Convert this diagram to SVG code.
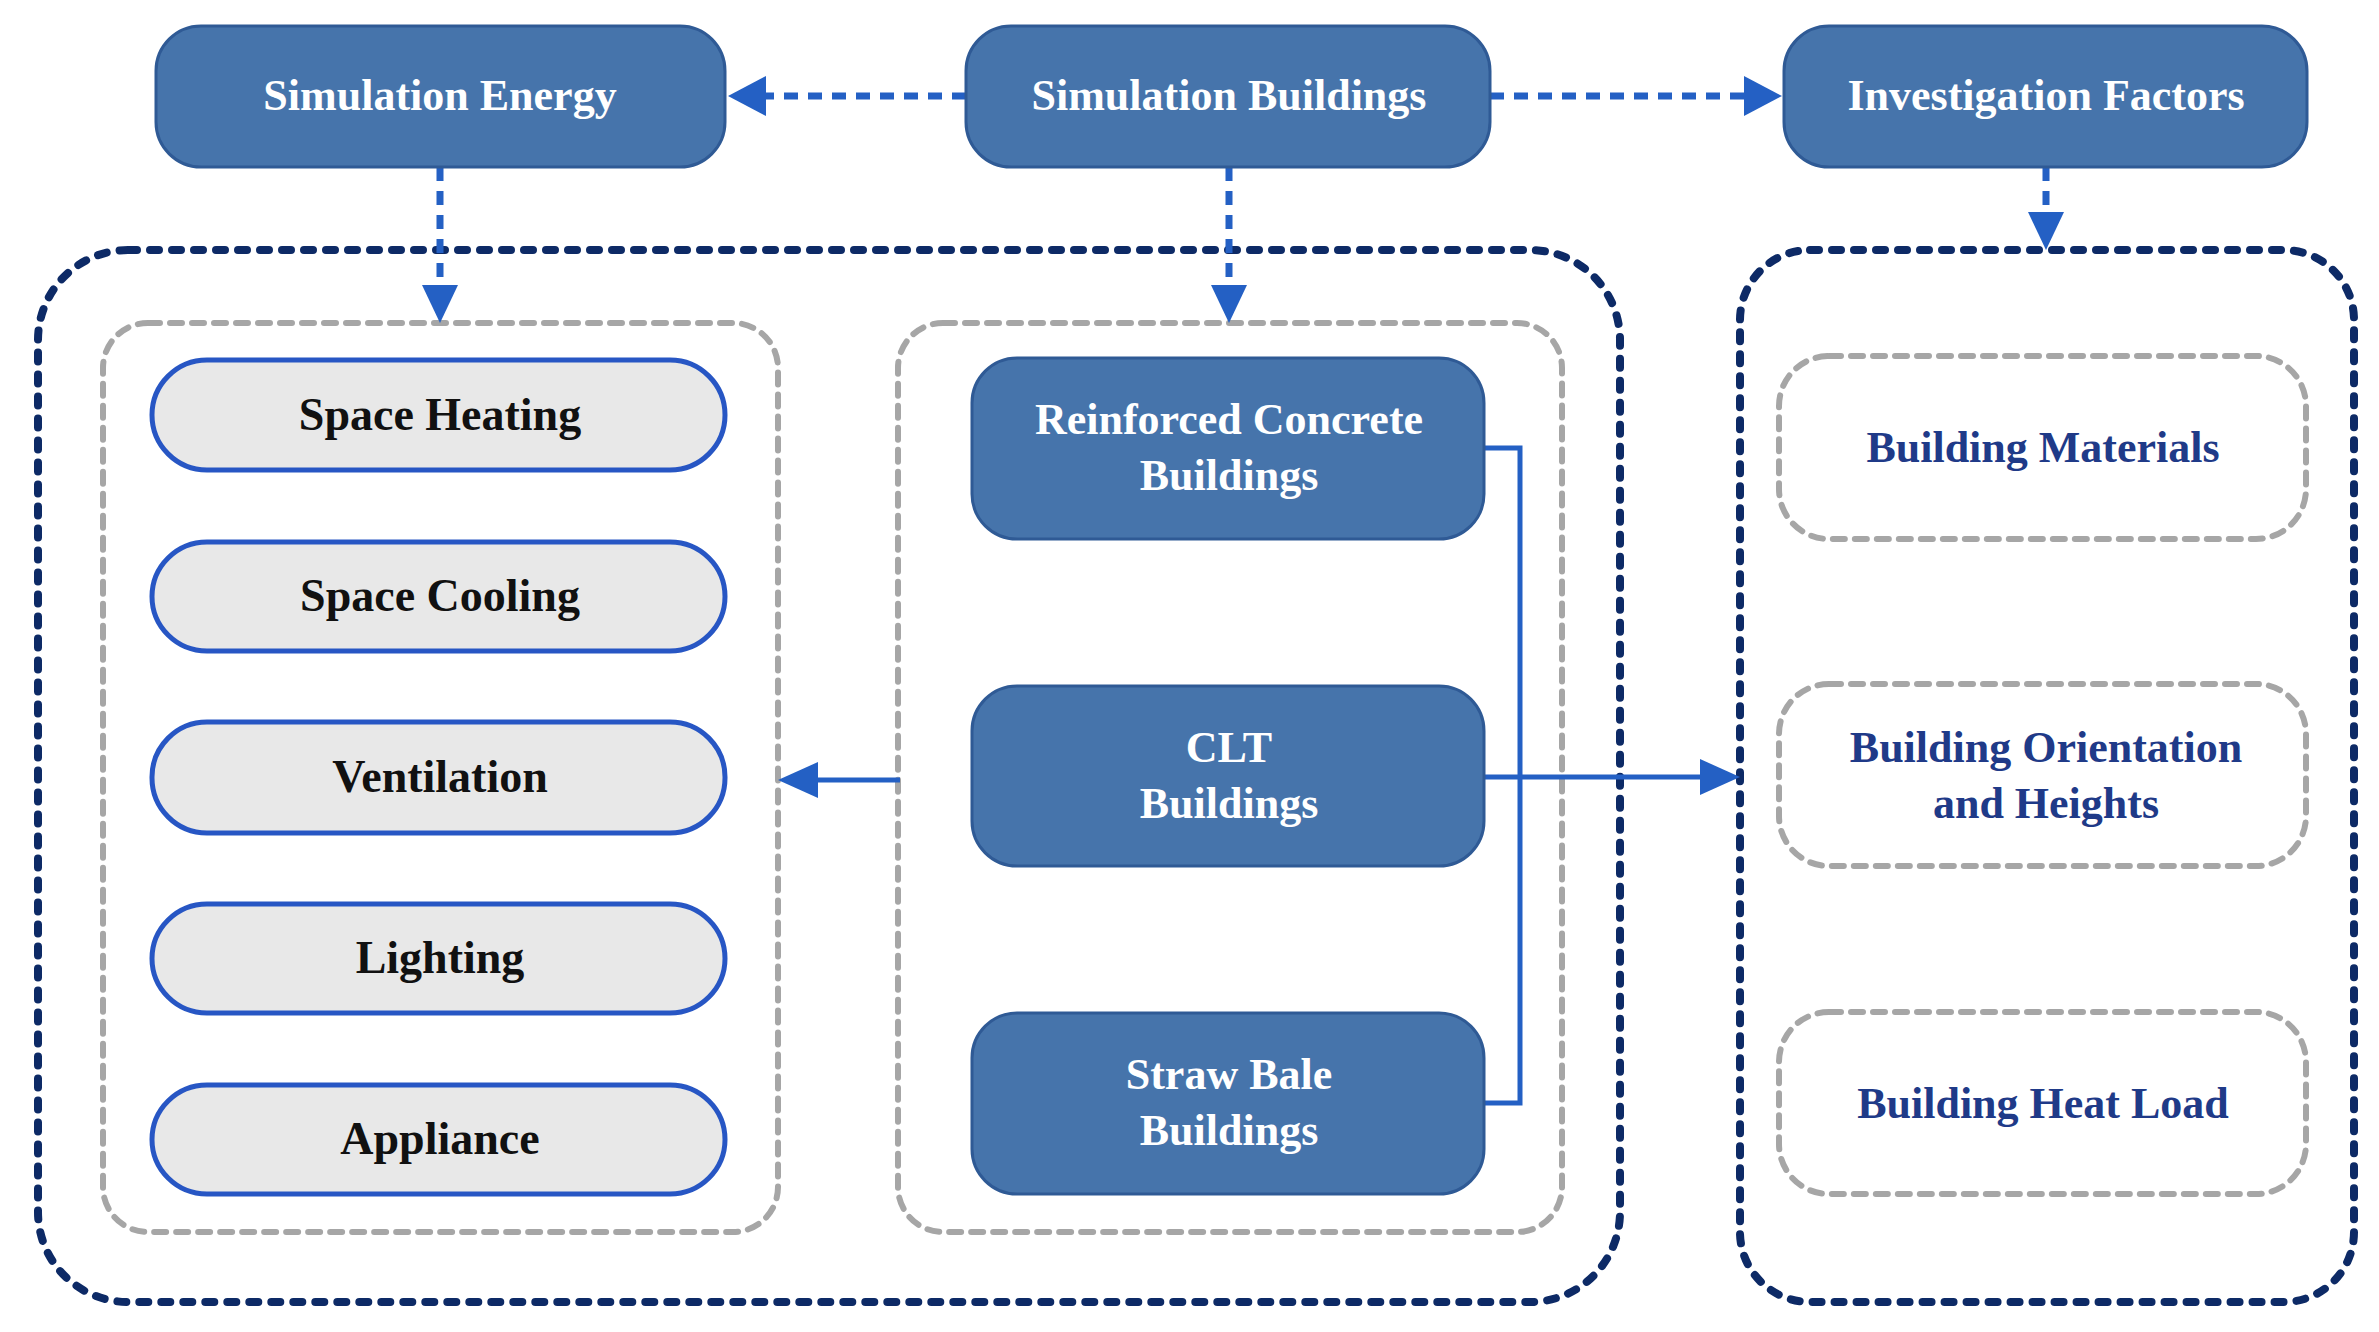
<svg xmlns="http://www.w3.org/2000/svg" width="2379" height="1332" viewBox="0 0 2379 1332">
<defs>
<style>
.bx{fill:#4674ab;stroke:#2f5a95;stroke-width:3}
.wt{font-family:"Liberation Serif",serif;font-weight:bold;font-size:44px;fill:#fff;text-anchor:middle}
.pl{fill:#e8e8e8;stroke:#2756c4;stroke-width:5}
.bt{font-family:"Liberation Serif",serif;font-weight:bold;font-size:46px;fill:#111;text-anchor:middle}
.nt{font-family:"Liberation Serif",serif;font-weight:bold;font-size:44px;fill:#1f3a88;text-anchor:middle}
.dk{fill:none;stroke:#0d2a66;stroke-width:8;stroke-dasharray:9 13;stroke-linecap:round}
.gr{fill:none;stroke:#a6a6a6;stroke-width:6;stroke-dasharray:12 10;stroke-linecap:round}
.da{fill:none;stroke:#2460c4;stroke-width:7;stroke-dasharray:14 10}
.sl{fill:none;stroke:#2460c4;stroke-width:5}
</style>
<marker id="ah" viewBox="0 0 10 10" refX="9" refY="5" markerWidth="6" markerHeight="6" markerUnits="userSpaceOnUse" orient="auto"><path d="M0,0L10,5L0,10z" fill="#2460c4"/></marker>
<marker id="ah2" viewBox="0 0 10 10" refX="9" refY="5" markerWidth="8" markerHeight="8" orient="auto"><path d="M0,0L10,5L0,10z" fill="#2460c4"/></marker>
</defs>
<rect width="2379" height="1332" fill="#fff"/>
<g id="outer-left"><rect class="dk" x="38" y="250" width="1582" height="1052" rx="90"/></g>
<g id="outer-right"><rect class="dk" x="1740" y="250" width="614" height="1052" rx="70"/></g>
<g id="group-energy"><rect class="gr" x="103" y="323" width="675" height="909" rx="45"/></g>
<g id="group-buildings"><rect class="gr" x="898" y="323" width="664" height="909" rx="45"/></g>
<g id="connectors">
<line class="da" x1="966" y1="96" x2="740" y2="96"/><path d="M728,96L766,76L766,116z" fill="#2460c4"/>
<line class="da" x1="1490" y1="96" x2="1770" y2="96"/><path d="M1782,96L1744,76L1744,116z" fill="#2460c4"/>
<line class="da" x1="440" y1="167" x2="440" y2="290"/><path d="M440,323L422,285L458,285z" fill="#2460c4"/>
<line class="da" x1="1229" y1="167" x2="1229" y2="290"/><path d="M1229,323L1211,285L1247,285z" fill="#2460c4"/>
<line class="da" x1="2046" y1="167" x2="2046" y2="215"/><path d="M2046,250L2028,212L2064,212z" fill="#2460c4"/>
<polyline class="sl" points="1484,448 1520,448 1520,1103 1484,1103"/>
<line class="sl" x1="1484" y1="777" x2="1705" y2="777"/><path d="M1740,777L1700,759L1700,795z" fill="#2460c4"/>
<line class="sl" x1="900" y1="780" x2="810" y2="780"/><path d="M778,780L818,762L818,798z" fill="#2460c4"/>
</g>
<g id="sim-energy"><rect class="bx" x="156" y="26" width="569" height="141" rx="45"/><text class="wt" x="440" y="110">Simulation Energy</text></g>
<g id="sim-buildings"><rect class="bx" x="966" y="26" width="524" height="141" rx="45"/><text class="wt" x="1229" y="110">Simulation Buildings</text></g>
<g id="inv-factors"><rect class="bx" x="1784" y="26" width="523" height="141" rx="45"/><text class="wt" x="2046" y="110">Investigation Factors</text></g>
<g id="space-heating"><rect class="pl" x="152" y="360" width="573" height="110" rx="55"/><text class="bt" x="440" y="430">Space Heating</text></g>
<g id="space-cooling"><rect class="pl" x="152" y="542" width="573" height="109" rx="55"/><text class="bt" x="440" y="611">Space Cooling</text></g>
<g id="ventilation"><rect class="pl" x="152" y="722" width="573" height="111" rx="55"/><text class="bt" x="440" y="792">Ventilation</text></g>
<g id="lighting"><rect class="pl" x="152" y="904" width="573" height="109" rx="55"/><text class="bt" x="440" y="973">Lighting</text></g>
<g id="appliance"><rect class="pl" x="152" y="1085" width="573" height="109" rx="55"/><text class="bt" x="440" y="1154">Appliance</text></g>
<g id="rc-buildings"><rect class="bx" x="972" y="358" width="512" height="181" rx="45"/><text class="wt" x="1229" y="434">Reinforced Concrete</text><text class="wt" x="1229" y="490">Buildings</text></g>
<g id="clt-buildings"><rect class="bx" x="972" y="686" width="512" height="180" rx="45"/><text class="wt" x="1229" y="762">CLT</text><text class="wt" x="1229" y="818">Buildings</text></g>
<g id="straw-buildings"><rect class="bx" x="972" y="1013" width="512" height="181" rx="45"/><text class="wt" x="1229" y="1089">Straw Bale</text><text class="wt" x="1229" y="1145">Buildings</text></g>
<g id="materials"><rect class="gr" x="1779" y="356" width="527" height="183" rx="50"/><text class="nt" x="2043" y="462">Building Materials</text></g>
<g id="orientation"><rect class="gr" x="1779" y="684" width="527" height="182" rx="50"/><text class="nt" x="2046" y="762">Building Orientation</text><text class="nt" x="2046" y="818">and Heights</text></g>
<g id="heat-load"><rect class="gr" x="1779" y="1012" width="527" height="182" rx="50"/><text class="nt" x="2043" y="1118">Building Heat Load</text></g>
</svg>
